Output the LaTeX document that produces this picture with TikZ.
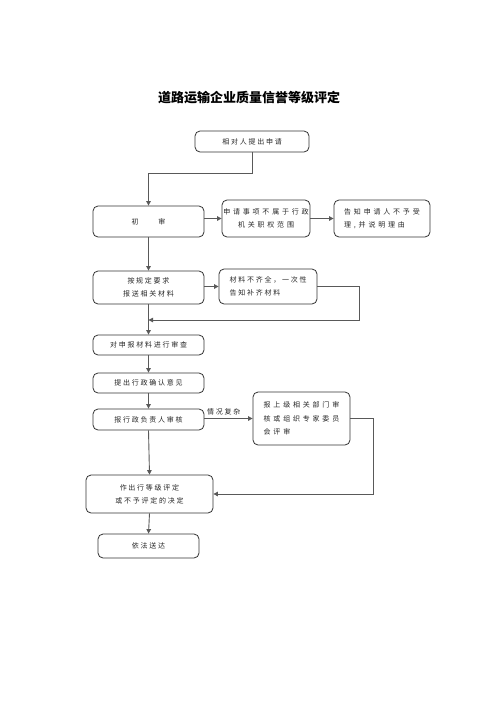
\documentclass[tikz,border=0pt]{standalone}
\usepackage{fontspec}
\usetikzlibrary{arrows.meta,calc}
\newfontfamily\cjktitle{Noto Sans CJK SC}
\newfontfamily\cjka[LetterSpace=25]{Noto Sans CJK SC}
\newfontfamily\cjkb[LetterSpace=40]{Noto Sans CJK SC}
\tikzset{
  box/.style={draw=black!80, line width=0.8pt, rounded corners=5pt, inner sep=0pt,
    font=\cjka\fontsize{7}{13}\selectfont, text=black!85},
  widebox/.style={box, font=\cjkb\fontsize{7}{13.5}\selectfont},
  arr/.style={draw=black!65, line width=0.9pt, -{Triangle[length=4.5pt,width=4.5pt]}},
  lin/.style={draw=black!65, line width=0.9pt},
  lbl/.style={font=\cjka\fontsize{7}{9}\selectfont, text=black!85}
}
\begin{document}
\begin{tikzpicture}[x=1pt,y=-1pt]
\useasboundingbox[fill=white] (0,0) rectangle (500,707);
\node[font=\cjktitle\bfseries\fontsize{13}{15}\selectfont] (title) at (249,98) {道路运输企业质量信誉等级评定};
\node[box, minimum width=114, minimum height=21] (b1) at (252,141.5) {相对人提出申请};
\node[box, minimum width=111, minimum height=31] (b2) at (148.5,221.5) {初\hspace{20pt}审};
\node[widebox, minimum width=88, minimum height=37, align=center] (b3) at (266,218.5) {申请事项不属于行政\\机关职权范围};
\node[widebox, minimum width=96, minimum height=37, align=left] (b4) at (382,218.5) {告知申请人不予受\\理,并说明理由};
\node[box, minimum width=111, minimum height=33, align=center] (b5) at (148.5,287.5) {按规定要求\\报送相关材料};
\node[box, minimum width=98, minimum height=35, align=left] (b6) at (268,286.5) {材料不齐全，一次性\\告知补齐材料};
\node[box, minimum width=111, minimum height=20] (b7) at (148.5,345) {对申报材料进行审查};
\node[box, minimum width=111, minimum height=20] (b8) at (148.5,383) {提出行政确认意见};
\node[box, minimum width=111, minimum height=21] (b9) at (148.5,419.5) {报行政负责人审核};
\node[widebox, minimum width=97, minimum height=53, align=left] (b10) at (301.5,418.5) {报上级相关部门审\\核或组织专家委员\\会评审};
\node[box, minimum width=127, minimum height=38, align=center] (b11) at (149.5,494) {作出行等级评定\\或不予评定的决定};
\node[box, minimum width=101, minimum height=24] (b12) at (148.5,546) {依法送达};
\coordinate (r1) at (359,320);
\coordinate (r2) at (373,494);
\draw[arr] (b1.south) -- ++(0,21.5) -| (b2.north);
\draw[arr] (b3.west -| b2.east) -- (b3.west);
\draw[arr] (b3.east) -- (b4.west);
\draw[arr] (b2.south) -- (b5.north);
\draw[arr] (b6.west -| b5.east) -- (b6.west);
\draw[arr] (b6.east) -| (r1) -- (r1 -| b5.south);
\draw[arr] (b5.south) -- (b7.north);
\draw[arr] (b7.south) -- (b8.north);
\draw[arr] (b8.south) -- (b9.north);
\draw[arr] (b10.west -| b9.east) -- node[lbl, above, pos=0.4] (lab) {情况复杂} (b10.west);
\draw[arr] (b10.east) -| (r2) -- (b11.east);
\draw[arr] (b9.south) -- (b11.north);
\draw[arr] (b11.south) -- (b12.north);
\end{tikzpicture}
\end{document}
